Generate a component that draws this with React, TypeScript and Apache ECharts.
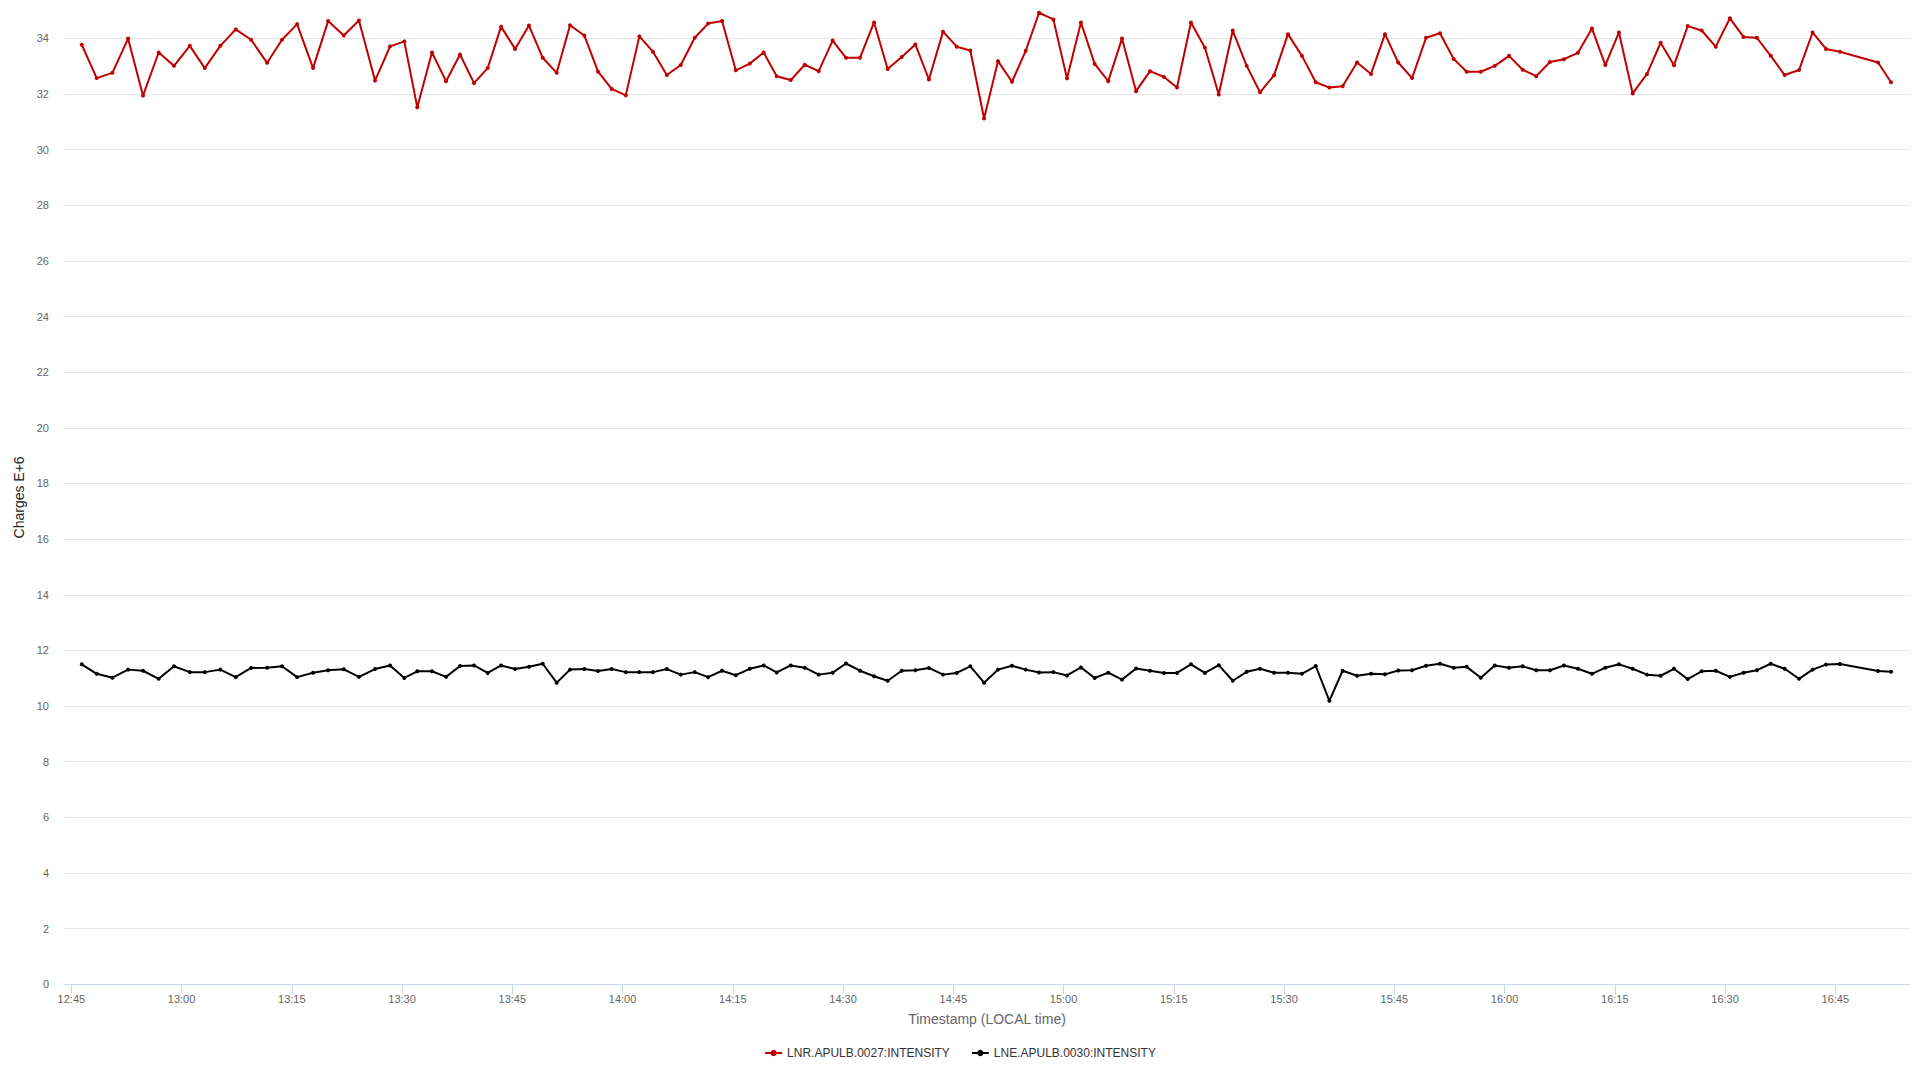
import React, { useEffect, useRef } from "react";
import * as echarts from "echarts";

const DAY = "2024-01-01";
const AXIS_MIN = "12:44:00";
const AXIS_MAX = "16:55:10";

const seriesNames = ["LNR.APULB.0027:INTENSITY", "LNE.APULB.0030:INTENSITY"];
const seriesColors = ["#c00000", "#000000"];

const times = [
  "12:46:25", "12:48:27", "12:50:35", "12:52:43", "12:54:45", "12:56:53", "12:58:58", "13:01:07", "13:03:09", "13:05:16",
  "13:07:22", "13:09:27", "13:11:38", "13:13:40", "13:15:43", "13:17:53", "13:19:56", "13:22:04", "13:24:08", "13:26:19",
  "13:28:22", "13:30:18", "13:32:04", "13:34:04", "13:35:59", "13:37:53", "13:39:47", "13:41:39", "13:43:28", "13:45:22",
  "13:47:16", "13:49:08", "13:51:02", "13:52:51", "13:54:48", "13:56:40", "13:58:31", "14:00:26", "14:02:17", "14:04:08",
  "14:06:01", "14:07:55", "14:09:49", "14:11:38", "14:13:32", "14:15:24", "14:17:18", "14:19:12", "14:20:58", "14:22:53",
  "14:24:47", "14:26:41", "14:28:35", "14:30:24", "14:32:18", "14:34:13", "14:36:04", "14:37:59", "14:39:50", "14:41:41",
  "14:43:36", "14:45:28", "14:47:19", "14:49:11", "14:51:05", "14:52:59", "14:54:51", "14:56:40", "14:58:37", "15:00:28",
  "15:02:22", "15:04:14", "15:06:05", "15:07:57", "15:09:52", "15:11:46", "15:13:40", "15:15:26", "15:17:20", "15:19:14",
  "15:21:07", "15:23:01", "15:24:55", "15:26:44", "15:28:38", "15:30:32", "15:32:26", "15:34:19", "15:36:10", "15:37:58",
  "15:39:56", "15:41:50", "15:43:44", "15:45:32", "15:47:25", "15:49:19", "15:51:13", "15:53:05", "15:54:51", "15:56:46",
  "15:58:40", "16:00:37", "16:02:28", "16:04:19", "16:06:11", "16:08:05", "16:09:59", "16:11:54", "16:13:43", "16:15:34",
  "16:17:26", "16:19:23", "16:21:14", "16:23:03", "16:24:55", "16:26:49", "16:28:44", "16:30:40", "16:32:31", "16:34:20",
  "16:36:13", "16:38:07", "16:40:04", "16:41:55", "16:43:44", "16:45:38", "16:50:49", "16:52:35",
];

const redValues = [
  33.77, 32.57, 32.76, 33.99, 31.94, 33.49, 33.01, 33.73, 32.93, 33.73,
  34.32, 33.95, 33.12, 33.95, 34.51, 32.93, 34.62, 34.10, 34.64, 32.48,
  33.71, 33.89, 31.52, 33.49, 32.46, 33.42, 32.39, 32.93, 34.42, 33.62,
  34.46, 33.30, 32.76, 34.47, 34.10, 32.80, 32.18, 31.95, 34.07, 33.52,
  32.68, 33.04, 34.02, 34.53, 34.62, 32.85, 33.09, 33.49, 32.64, 32.50,
  33.05, 32.82, 33.92, 33.30, 33.30, 34.57, 32.90, 33.33, 33.78, 32.52,
  34.24, 33.70, 33.56, 31.12, 33.18, 32.44, 33.55, 34.92, 34.68, 32.56,
  34.57, 33.08, 32.46, 33.99, 32.10, 32.82, 32.61, 32.23, 34.57, 33.66,
  31.98, 34.28, 33.01, 32.06, 32.67, 34.15, 33.37, 32.42, 32.23, 32.28,
  33.13, 32.72, 34.15, 33.13, 32.57, 34.02, 34.18, 33.26, 32.80, 32.80,
  33.01, 33.37, 32.87, 32.64, 33.15, 33.25, 33.48, 34.35, 33.04, 34.21,
  32.02, 32.72, 33.84, 33.03, 34.44, 34.28, 33.70, 34.72, 34.05, 34.02,
  33.37, 32.68, 32.86, 34.21, 33.62, 33.52, 33.13, 32.42,
];

const blackValues = [
  11.50, 11.16, 11.02, 11.31, 11.27, 10.98, 11.43, 11.22, 11.22, 11.31,
  11.04, 11.37, 11.38, 11.43, 11.04, 11.20, 11.29, 11.32, 11.05, 11.33,
  11.46, 11.01, 11.25, 11.25, 11.05, 11.44, 11.46, 11.19, 11.46, 11.33,
  11.41, 11.52, 10.84, 11.31, 11.33, 11.26, 11.33, 11.22, 11.22, 11.22,
  11.33, 11.13, 11.22, 11.04, 11.27, 11.11, 11.34, 11.46, 11.21, 11.46,
  11.38, 11.13, 11.20, 11.53, 11.27, 11.07, 10.91, 11.27, 11.29, 11.37,
  11.13, 11.19, 11.43, 10.84, 11.31, 11.45, 11.31, 11.21, 11.22, 11.10,
  11.39, 11.01, 11.20, 10.95, 11.35, 11.27, 11.19, 11.19, 11.50, 11.19,
  11.47, 10.91, 11.23, 11.34, 11.20, 11.20, 11.16, 11.44, 10.19, 11.27,
  11.09, 11.16, 11.14, 11.28, 11.29, 11.45, 11.52, 11.38, 11.41, 11.02,
  11.46, 11.38, 11.43, 11.29, 11.29, 11.46, 11.34, 11.16, 11.38, 11.50,
  11.34, 11.13, 11.09, 11.34, 10.97, 11.25, 11.27, 11.05, 11.20, 11.29,
  11.52, 11.34, 10.98, 11.31, 11.49, 11.51, 11.26, 11.23,
];

const FONT = "'Liberation Sans', Arial, Helvetica, sans-serif";

const toTs = (t: string) => Date.parse(`${DAY}T${t}Z`);
const pad = (n: number) => (n < 10 ? "0" + n : "" + n);
const fmtTime = (v: number) => {
  const d = new Date(v);
  return pad(d.getUTCHours()) + ":" + pad(d.getUTCMinutes());
};

export default function App() {
  const ref = useRef<HTMLDivElement>(null);

  useEffect(() => {
    if (!ref.current) return;
    const chart = echarts.init(ref.current, undefined, { renderer: "svg" });
    const allValues = [redValues, blackValues];
    chart.setOption({
      animation: false,
      useUTC: true,
      backgroundColor: "#ffffff",
      textStyle: { fontFamily: FONT },
      grid: { left: 64, right: 10, top: 10.5, bottom: 95.7, containLabel: false, outerBoundsMode: "none" },
      legend: {
        left: "center",
        top: 1042,
        itemWidth: 17,
        itemHeight: 8,
        itemGap: 21,
        textStyle: { color: "#333333", fontSize: 12, fontFamily: FONT },
        data: seriesNames,
      },
      xAxis: {
        type: "time",
        min: toTs(AXIS_MIN),
        max: toTs(AXIS_MAX),
        minInterval: 16 * 60 * 1000,
        maxInterval: 16 * 60 * 1000,
        splitLine: { show: false },
        axisLine: { show: true, lineStyle: { color: "#ccd6eb", width: 1 } },
        axisTick: { show: true, length: 10, lineStyle: { color: "#ccd6eb" } },
        axisLabel: {
          color: "#666666",
          fontSize: 11,
          margin: 9,
          showMinLabel: false,
          showMaxLabel: false,
          formatter: (v: number) => fmtTime(v),
        },
        name: "Timestamp (LOCAL time)",
        nameLocation: "middle",
        nameGap: 28,
        nameTextStyle: { color: "#666666", fontSize: 14, fontFamily: FONT },
      },
      yAxis: {
        type: "value",
        min: 0,
        max: 35,
        interval: 2,
        axisLine: { show: false },
        axisTick: { show: false },
        axisLabel: { color: "#666666", fontSize: 11, margin: 15, showMaxLabel: false },
        splitLine: { show: true, showMaxLine: false, lineStyle: { color: "#e6e6e6", width: 1 } },
        name: "Charges E+6",
        nameLocation: "middle",
        nameRotate: 90,
        nameGap: 28,
        nameTextStyle: { color: "#222222", fontSize: 14, fontFamily: FONT },
      },
      series: seriesNames.map((name, i) => ({
        name,
        type: "line",
        symbol: "circle",
        symbolSize: 4,
        showSymbol: true,
        showAllSymbol: true,
        color: seriesColors[i],
        lineStyle: { color: seriesColors[i], width: 2 },
        itemStyle: { color: seriesColors[i], borderWidth: 0 },
        data: times.map((t, k) => [toTs(t), allValues[i][k]]),
      })),
    });
    return () => chart.dispose();
  }, []);

  return (
    <div
      ref={ref}
      style={{ position: "fixed", left: 0, top: 0, width: 1920, height: 1080, background: "#fff" }}
    />
  );
}
